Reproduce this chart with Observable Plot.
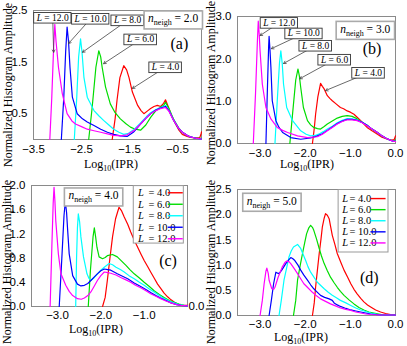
<!DOCTYPE html>
<html><head><meta charset="utf-8">
<script src="https://cdn.jsdelivr.net/npm/d3@7"></script>
<script src="https://cdn.jsdelivr.net/npm/@observablehq/plot@0.6"></script>
<style>
body{margin:0;background:#fff}
#fig{position:relative;width:407px;height:346px;overflow:hidden;background:#fff}
.pn{position:absolute}
.xl{position:absolute;transform:translateX(-50%);font:12px "Liberation Serif","Times New Roman",serif;line-height:11px;white-space:nowrap;color:#000}
.xl sub{font-size:8px;line-height:0;vertical-align:-3px}
.yl{position:absolute;transform:translate(-50%,-50%) rotate(-90deg);font:12px "Liberation Serif","Times New Roman",serif;line-height:12px;white-space:nowrap;color:#000}
</style>
</head><body><div id="fig"></div>
<script>
// ---------- data ----------
const Lvalues = ["4.0", "6.0", "8.0", "10.0", "12.0"];
const colors = ["#ff0000", "#00dd00", "#00ffff", "#0000ff", "#ff00ff"];
const nNeigh = ["2.0", "3.0", "4.0", "5.0"];
const tags = ["(a)", "(b)", "(c)", "(d)"];

const xTicksA = [-3.5, -2.5, -1.5, -0.5];
const xTicksB = [-3, -2, -1, 0];
const xTicksC = [-3, -2, -1];
const xTicksD = [-3, -2, -1, 0];
const yTicksA = [0.5, 1.5, 2.5];
const yTicksB = [0, 1, 2, 3];
const yTicksC = [0, 0.4, 0.8, 1.2, 1.6, 2.0];
const yTicksD = [0, 0.5, 1, 1.5, 2, 2.5];

// panel (a), n_neigh = 2.0  : [log10(IPR), amplitude]
const a4 = [[-1.86,0],[-1.80,0.4],[-1.76,0.76],[-1.70,1.2],[-1.62,1.43],[-1.56,1.35],[-1.51,1.20],[-1.44,0.92],[-1.33,0.66],[-1.26,0.56],[-1.20,0.50],[-1.13,0.55],[-1.06,0.60],[-0.99,0.64],[-0.92,0.66],[-0.85,0.64],[-0.79,0.70],[-0.75,0.77],[-0.69,0.63],[-0.62,0.46],[-0.54,0.30],[-0.47,0.18],[-0.40,0.10],[-0.30,0.06],[-0.23,0.04],[-0.12,0.03],[-0.04,0.03],[-0.01,0.10],[0,0.15]];
const a6 = [[-2.35,0],[-2.28,0.6],[-2.20,1.4],[-2.14,1.72],[-2.10,1.6],[-2.07,1.40],[-2.0,1.02],[-1.90,0.69],[-1.80,0.52],[-1.69,0.40],[-1.58,0.31],[-1.48,0.24],[-1.38,0.20],[-1.27,0.18],[-1.16,0.28],[-1.06,0.43],[-0.95,0.56],[-0.85,0.63],[-0.79,0.66],[-0.75,0.72],[-0.68,0.60],[-0.58,0.39],[-0.48,0.23],[-0.40,0.14],[-0.30,0.08],[-0.23,0.05],[-0.1,0.02],[0,0.02]];
const a8 = [[-2.65,0],[-2.60,0.8],[-2.56,1.6],[-2.52,1.95],[-2.49,1.7],[-2.45,1.21],[-2.38,0.82],[-2.24,0.56],[-2.14,0.46],[-2.04,0.37],[-1.93,0.28],[-1.83,0.20],[-1.72,0.14],[-1.62,0.10],[-1.52,0.12],[-1.40,0.20],[-1.27,0.32],[-1.15,0.44],[-1.06,0.52],[-0.95,0.58],[-0.85,0.62],[-0.75,0.66],[-0.68,0.57],[-0.58,0.38],[-0.48,0.22],[-0.40,0.14],[-0.30,0.08],[-0.23,0.05],[-0.1,0.02],[0,0.01]];
const a10 = [[-2.92,0],[-2.87,0.8],[-2.83,1.7],[-2.80,2.18],[-2.77,1.9],[-2.74,1.40],[-2.69,0.82],[-2.59,0.50],[-2.48,0.40],[-2.38,0.34],[-2.24,0.27],[-2.10,0.20],[-1.96,0.14],[-1.83,0.10],[-1.69,0.07],[-1.55,0.06],[-1.42,0.14],[-1.27,0.30],[-1.15,0.42],[-1.06,0.50],[-0.95,0.57],[-0.85,0.61],[-0.75,0.64],[-0.68,0.56],[-0.58,0.37],[-0.48,0.22],[-0.40,0.14],[-0.30,0.08],[-0.23,0.05],[-0.1,0.02],[0,0.01]];
const a12 = [[-3.16,0],[-3.12,0.8],[-3.08,1.8],[-3.056,2.23],[-3.03,1.9],[-2.98,1.40],[-2.90,0.89],[-2.80,0.50],[-2.70,0.36],[-2.625,0.30],[-2.50,0.25],[-2.38,0.20],[-2.24,0.17],[-2.10,0.14],[-1.96,0.11],[-1.83,0.08],[-1.68,0.07],[-1.55,0.09],[-1.40,0.18],[-1.27,0.30],[-1.15,0.42],[-1.06,0.50],[-0.95,0.56],[-0.85,0.60],[-0.75,0.62],[-0.68,0.55],[-0.58,0.37],[-0.48,0.22],[-0.40,0.14],[-0.30,0.08],[-0.23,0.05],[-0.1,0.02],[0,0.01]];

// panel (b), n_neigh = 3.0
const b4 = [[-1.84,0],[-1.80,0.35],[-1.77,0.69],[-1.72,1.1],[-1.66,1.42],[-1.62,1.35],[-1.58,1.29],[-1.51,1.13],[-1.45,1.06],[-1.40,1.01],[-1.31,0.93],[-1.22,0.85],[-1.15,0.82],[-1.07,0.77],[-1.00,0.74],[-0.92,0.69],[-0.85,0.62],[-0.77,0.54],[-0.70,0.46],[-0.63,0.38],[-0.52,0.30],[-0.40,0.22],[-0.30,0.15],[-0.18,0.10],[-0.08,0.08],[-0.03,0.09],[0,0.18]];
const b6 = [[-2.34,0],[-2.28,0.7],[-2.21,1.5],[-2.16,1.76],[-2.13,1.6],[-2.10,1.33],[-2.04,0.85],[-1.95,0.54],[-1.88,0.44],[-1.81,0.38],[-1.73,0.35],[-1.66,0.34],[-1.58,0.40],[-1.51,0.46],[-1.40,0.53],[-1.29,0.60],[-1.18,0.64],[-1.07,0.66],[-0.96,0.64],[-0.88,0.60],[-0.77,0.52],[-0.63,0.43],[-0.52,0.34],[-0.40,0.26],[-0.30,0.18],[-0.22,0.13],[-0.12,0.08],[-0.04,0.06],[0,0.08]];
const b8 = [[-2.67,0],[-2.62,1.0],[-2.57,1.9],[-2.54,2.19],[-2.51,1.9],[-2.48,1.40],[-2.41,0.85],[-2.28,0.54],[-2.10,0.30],[-1.98,0.22],[-1.88,0.18],[-1.78,0.19],[-1.70,0.22],[-1.60,0.28],[-1.51,0.34],[-1.40,0.41],[-1.29,0.49],[-1.18,0.55],[-1.07,0.59],[-0.96,0.58],[-0.85,0.56],[-0.74,0.50],[-0.63,0.43],[-0.52,0.34],[-0.40,0.26],[-0.30,0.18],[-0.22,0.13],[-0.12,0.08],[-0.04,0.05],[0,0.05]];
const b10 = [[-2.87,0],[-2.84,1.2],[-2.81,2.3],[-2.80,2.53],[-2.78,2.2],[-2.76,1.80],[-2.73,1.01],[-2.65,0.54],[-2.58,0.38],[-2.50,0.26],[-2.32,0.14],[-2.10,0.10],[-1.88,0.13],[-1.73,0.18],[-1.62,0.23],[-1.51,0.31],[-1.40,0.39],[-1.29,0.47],[-1.18,0.53],[-1.07,0.57],[-0.96,0.57],[-0.85,0.55],[-0.74,0.50],[-0.63,0.43],[-0.52,0.34],[-0.40,0.26],[-0.30,0.18],[-0.22,0.13],[-0.12,0.08],[-0.04,0.05],[0,0.05]];
const b12 = [[-3.15,0],[-3.10,1.2],[-3.06,2.4],[-3.04,2.89],[-3.02,2.6],[-3.0,2.19],[-2.95,1.40],[-2.87,0.85],[-2.76,0.58],[-2.62,0.38],[-2.50,0.31],[-2.39,0.26],[-2.17,0.18],[-1.95,0.14],[-1.73,0.16],[-1.62,0.22],[-1.51,0.30],[-1.40,0.38],[-1.29,0.46],[-1.18,0.52],[-1.07,0.56],[-0.96,0.56],[-0.85,0.54],[-0.74,0.49],[-0.63,0.42],[-0.52,0.34],[-0.40,0.26],[-0.30,0.18],[-0.22,0.13],[-0.12,0.08],[-0.04,0.05],[0,0.05]];

// panel (c), n_neigh = 4.0
const c4 = [[-1.96,0],[-1.90,0.15],[-1.85,0.43],[-1.79,0.8],[-1.73,1.15],[-1.66,1.45],[-1.58,1.64],[-1.52,1.58],[-1.46,1.48],[-1.38,1.36],[-1.31,1.23],[-1.23,1.10],[-1.15,0.98],[-1.07,0.86],[-1.0,0.76],[-0.92,0.66],[-0.85,0.57],[-0.77,0.47],[-0.69,0.37],[-0.61,0.29],[-0.54,0.22],[-0.46,0.16],[-0.38,0.11],[-0.30,0.07],[-0.23,0.04],[-0.12,0.02],[0,0.02]];
const c6 = [[-2.29,0],[-2.24,0.6],[-2.18,1.15],[-2.15,1.30],[-2.12,1.15],[-2.09,0.98],[-2.04,0.82],[-1.96,0.79],[-1.90,0.81],[-1.85,0.84],[-1.73,0.86],[-1.62,0.82],[-1.52,0.75],[-1.42,0.68],[-1.33,0.61],[-1.23,0.54],[-1.11,0.47],[-1.0,0.40],[-0.88,0.33],[-0.77,0.26],[-0.65,0.20],[-0.54,0.15],[-0.42,0.10],[-0.31,0.07],[-0.20,0.04],[-0.08,0.02],[0,0.01]];
const c8 = [[-2.58,0],[-2.56,0.8],[-2.54,1.3],[-2.52,1.53],[-2.49,1.4],[-2.46,1.15],[-2.40,0.82],[-2.32,0.54],[-2.27,0.46],[-2.23,0.43],[-2.15,0.48],[-2.08,0.54],[-2.00,0.60],[-1.92,0.65],[-1.81,0.71],[-1.73,0.69],[-1.65,0.65],[-1.55,0.61],[-1.46,0.57],[-1.35,0.51],[-1.23,0.46],[-1.11,0.40],[-1.0,0.35],[-0.88,0.29],[-0.77,0.24],[-0.65,0.18],[-0.54,0.13],[-0.42,0.09],[-0.31,0.06],[-0.20,0.03],[-0.08,0.02],[0,0.01]];
const c10 = [[-2.96,0],[-2.90,0.8],[-2.85,1.5],[-2.82,1.74],[-2.79,1.55],[-2.77,1.31],[-2.73,0.87],[-2.65,0.51],[-2.54,0.37],[-2.46,0.34],[-2.38,0.35],[-2.30,0.38],[-2.23,0.43],[-2.15,0.49],[-2.08,0.54],[-2.00,0.59],[-1.92,0.62],[-1.84,0.61],[-1.77,0.60],[-1.62,0.54],[-1.50,0.50],[-1.38,0.46],[-1.23,0.39],[-1.08,0.33],[-0.96,0.28],[-0.85,0.23],[-0.73,0.18],[-0.62,0.14],[-0.50,0.10],[-0.38,0.06],[-0.25,0.03],[-0.15,0.02],[0,0.01]];
const c12 = [[-3.17,0],[-3.13,1.0],[-3.10,1.7],[-3.08,1.97],[-3.06,1.75],[-3.04,1.42],[-2.98,0.87],[-2.92,0.54],[-2.81,0.35],[-2.73,0.25],[-2.65,0.18],[-2.54,0.13],[-2.45,0.12],[-2.38,0.14],[-2.30,0.18],[-2.23,0.24],[-2.15,0.34],[-2.08,0.43],[-2.00,0.51],[-1.92,0.57],[-1.84,0.56],[-1.77,0.55],[-1.65,0.52],[-1.54,0.48],[-1.42,0.44],[-1.31,0.40],[-1.20,0.35],[-1.08,0.31],[-0.96,0.26],[-0.85,0.21],[-0.73,0.17],[-0.62,0.13],[-0.50,0.09],[-0.38,0.06],[-0.25,0.03],[-0.15,0.02],[0,0.01]];

// panel (d), n_neigh = 5.0
const d4 = [[-1.84,0],[-1.80,0.25],[-1.77,0.56],[-1.73,0.9],[-1.69,1.23],[-1.65,1.52],[-1.62,1.76],[-1.58,1.93],[-1.55,2.02],[-1.51,1.99],[-1.47,1.92],[-1.44,1.78],[-1.40,1.59],[-1.34,1.40],[-1.29,1.23],[-1.21,1.05],[-1.14,0.90],[-1.06,0.76],[-0.99,0.63],[-0.92,0.52],[-0.85,0.43],[-0.77,0.34],[-0.70,0.27],[-0.62,0.21],[-0.55,0.17],[-0.44,0.11],[-0.33,0.07],[-0.22,0.04],[-0.11,0.02],[0,0.01]];
const d6 = [[-2.26,0],[-2.21,0.3],[-2.17,0.70],[-2.11,1.0],[-2.06,1.23],[-2.01,1.45],[-1.97,1.62],[-1.92,1.74],[-1.88,1.79],[-1.84,1.75],[-1.81,1.69],[-1.75,1.52],[-1.69,1.33],[-1.64,1.18],[-1.58,1.03],[-1.51,0.89],[-1.44,0.76],[-1.36,0.65],[-1.29,0.56],[-1.22,0.48],[-1.14,0.40],[-1.03,0.31],[-0.92,0.23],[-0.81,0.16],[-0.70,0.11],[-0.59,0.07],[-0.48,0.05],[-0.37,0.03],[-0.26,0.01],[0,0.01]];
const d8 = [[-2.58,0],[-2.53,0.3],[-2.47,0.70],[-2.41,0.95],[-2.36,1.16],[-2.31,1.28],[-2.26,1.36],[-2.17,1.41],[-2.10,1.33],[-2.05,1.22],[-1.99,1.09],[-1.94,0.97],[-1.88,0.86],[-1.80,0.75],[-1.73,0.66],[-1.65,0.59],[-1.58,0.53],[-1.49,0.46],[-1.40,0.40],[-1.31,0.35],[-1.22,0.30],[-1.10,0.25],[-0.99,0.20],[-0.88,0.15],[-0.77,0.11],[-0.66,0.08],[-0.55,0.05],[-0.44,0.03],[-0.33,0.01],[0,0.01]];
const d10 = [[-2.80,0],[-2.75,0.3],[-2.70,0.63],[-2.65,0.86],[-2.61,0.84],[-2.58,0.83],[-2.52,0.90],[-2.43,1.03],[-2.36,1.11],[-2.32,1.15],[-2.28,1.13],[-2.23,1.09],[-2.16,1.0],[-2.10,0.90],[-2.03,0.80],[-1.95,0.70],[-1.88,0.61],[-1.81,0.53],[-1.73,0.46],[-1.66,0.40],[-1.57,0.36],[-1.47,0.33],[-1.40,0.30],[-1.36,0.25],[-1.29,0.21],[-1.22,0.18],[-1.10,0.14],[-0.99,0.11],[-0.88,0.09],[-0.77,0.07],[-0.66,0.05],[-0.55,0.03],[-0.44,0.02],[-0.33,0.01],[0,0.01]];
const d12 = [[-3.0,0],[-2.95,0.3],[-2.91,0.63],[-2.87,0.88],[-2.85,0.94],[-2.82,0.84],[-2.80,0.70],[-2.74,0.53],[-2.70,0.52],[-2.67,0.56],[-2.60,0.76],[-2.51,0.96],[-2.45,1.05],[-2.41,1.08],[-2.36,1.07],[-2.32,1.03],[-2.25,0.94],[-2.17,0.83],[-2.10,0.73],[-2.03,0.63],[-1.93,0.54],[-1.84,0.46],[-1.75,0.39],[-1.66,0.33],[-1.55,0.28],[-1.44,0.23],[-1.33,0.19],[-1.22,0.15],[-1.10,0.12],[-0.99,0.10],[-0.88,0.07],[-0.77,0.05],[-0.66,0.03],[-0.55,0.02],[-0.33,0.01],[0,0.01]];

// annotations (data units): label anchor and arrow tip
const annA = [
  {L: "12.0", x: -3.10, y: 2.36, tx: -3.08, ty: 1.69},
  {L: "10.0", x: -2.31, y: 2.34, tx: -2.77, ty: 1.86},
  {L: "8.0", x: -1.54, y: 2.31, tx: -2.48, ty: 1.69},
  {L: "6.0", x: -1.27, y: 1.94, tx: -2.04, ty: 1.47},
  {L: "4.0", x: -0.75, y: 1.40, tx: -1.44, ty: 0.99}
];
const annB = [
  {L: "12.0", x: -2.576, y: 2.85, tx: -3.0, ty: 2.55},
  {L: "10.0", x: -2.03, y: 2.60, tx: -2.75, ty: 2.24},
  {L: "8.0", x: -1.77, y: 2.31, tx: -2.48, ty: 1.89},
  {L: "6.0", x: -1.35, y: 1.98, tx: -2.12, ty: 1.53},
  {L: "4.0", x: -0.60, y: 1.67, tx: -1.55, ty: 1.25}
];
const nPos = [[-0.59, 2.34], [-0.67, 2.70], [-2.17, 1.83], [-2.74, 2.27]];
const tagPos = [[-0.46, 1.86], [-0.52, 2.23], [-0.45, 0.76], [-0.58, 0.74]];
const legC = {x1: -1.24, x2: -0.085, y1: 1.04, y2: 1.99, lx: -1.14, ex: -0.90, r1: -0.455, r2: -0.11, top: 1.88, step: 0.19};
const legD = {x1: -1.26, x2: -0.155, y1: 1.25, y2: 2.49, lx: -1.18, ex: -1.02, r1: -0.555, r2: -0.22, top: 2.32, step: 0.22};

// ---------- drawing ----------
const SANS = "'Liberation Sans', Arial, Helvetica, sans-serif";
const SERIF = "'Liberation Serif', 'Times New Roman', serif";
const NS = "http://www.w3.org/2000/svg";
const fmt = d => (d < 0 ? "\u2212" : "") + Math.abs(d).toFixed(1);

const panels = [
  {left: 0, top: 0, w: 205, h: 170, m: [10, 4, 31, 33], xd: [-3.5, 0], yd: [0, 2.5], xt: xTicksA, yt: yTicksA, tp: 5,
   series: [a4, a6, a8, a10, a12], ann: annA, leg: null, yl: [8, 85], xl: [111, 168]},
  {left: 205, top: 0, w: 202, h: 170, m: [16, 12, 27, 32], xd: [-3.5, 0], yd: [0, 3], xt: xTicksB, yt: yTicksB, tp: 5,
   series: [b4, b6, b8, b10, b12], ann: annB, leg: null, yl: [211, 83], xl: [307, 168]},
  {left: 0, top: 172, w: 205, h: 174, m: [13, 18, 40, 31], xd: [-3.6, 0], yd: [0, 2], xt: xTicksC, yt: yTicksC, tp: 4,
   series: [c4, c6, c8, c10, c12], ann: null, leg: legC, extraZero: true, yl: [7, 262], xl: [96, 333]},
  {left: 205, top: 172, w: 202, h: 174, m: [17, 12, 31, 32], xd: [-3.5, 0], yd: [0, 2.5], xt: xTicksD, yt: yTicksD, tp: 4,
   series: [d4, d6, d8, d10, d12], ann: null, leg: legD, yl: [211, 262], xl: [301, 341]}
];

const fig = document.getElementById("fig");

function tspan(t, s, attrs = {}) {
  const e = document.createElementNS(NS, "tspan");
  for (const k in attrs) e.setAttribute(k, attrs[k]);
  e.textContent = s;
  t.appendChild(e);
}
function box(t, stroke, sw, px, py) {
  const b = t.getBBox();
  const r = document.createElementNS(NS, "rect");
  r.setAttribute("x", b.x - px); r.setAttribute("y", b.y - py);
  r.setAttribute("width", b.width + 2 * px); r.setAttribute("height", b.height + 2 * py);
  r.setAttribute("fill", "white"); r.setAttribute("stroke", stroke); r.setAttribute("stroke-width", sw);
  const tr = t.getAttribute("transform"); if (tr) r.setAttribute("transform", tr);
  t.parentNode.insertBefore(r, t);
}
function enrich(svg) {
  for (const t of Array.from(svg.querySelectorAll("text"))) {
    const s = t.textContent; let m;
    if ((m = s.match(/^L = (.*)$/))) {
      t.textContent = "";
      tspan(t, "L", {"font-style": "italic"});
      tspan(t, " = " + m[1]);
      box(t, "#333", 0.9, 2, 0.3);
    } else if ((m = s.match(/^n_neigh = (.*)$/))) {
      t.textContent = "";
      tspan(t, "n", {"font-style": "italic"});
      tspan(t, "neigh", {"font-size": "8px", dy: "3"});
      tspan(t, " = " + m[1], {dy: "-3"});
      box(t, "#aaa", 1.6, 4, 1.5);
    }
  }
}

panels.forEach((p, pi) => {
  const marks = [Plot.frame({stroke: "#8a8a8a", strokeWidth: 1})];
  p.series.forEach((s, i) => marks.push(Plot.line(s, {x: d => d[0], y: d => d[1], stroke: colors[i], strokeWidth: 1.2})));
  if (p.ann) {
    marks.push(Plot.arrow(p.ann, {x1: "x", y1: "y", x2: "tx", y2: "ty", stroke: "#444", strokeWidth: 0.8, headLength: 5, bend: 0}));
    marks.push(Plot.text(p.ann, {x: "x", y: "y", text: d => "L = " + d.L, fontFamily: SERIF, fontSize: 9.5, fill: "#000"}));
  }
  if (p.leg) {
    const g = p.leg;
    const rows = Lvalues.map((L, i) => ({L, c: colors[i], y: g.top - i * g.step, lx: g.lx, ex: g.ex, r1: g.r1, r2: g.r2}));
    marks.push(Plot.rect([g], {x1: "x1", x2: "x2", y1: "y1", y2: "y2", fill: "white", stroke: "#999", strokeWidth: 1}));
    marks.push(Plot.text(rows, {x: "lx", y: "y", text: () => "L", fontStyle: "italic", fontFamily: SERIF, fontSize: 10.5, textAnchor: "start"}));
    marks.push(Plot.text(rows, {x: "ex", y: "y", text: d => "= " + d.L, fontFamily: SERIF, fontSize: 10.5, textAnchor: "start"}));
    marks.push(Plot.link(rows, {x1: "r1", x2: "r2", y1: "y", y2: "y", stroke: d => d.c, strokeWidth: 1.4}));
  }
  marks.push(Plot.text([{v: nNeigh[pi], x: nPos[pi][0], y: nPos[pi][1]}], {x: "x", y: "y", text: d => "n_neigh = " + d.v, fontFamily: SERIF, fontSize: 11.5}));
  marks.push(Plot.text([{v: tags[pi], x: tagPos[pi][0], y: tagPos[pi][1]}], {x: "x", y: "y", text: "v", fontFamily: SERIF, fontSize: 16}));
  if (p.extraZero) {
    marks.push(Plot.text([0], {x: d => d, y: d => d, text: d => fmt(d), textAnchor: "start", dx: 1, fontFamily: SANS, fontSize: 11.5}));
  }
  const svg = Plot.plot({
    width: p.w, height: p.h,
    marginTop: p.m[0], marginRight: p.m[1], marginBottom: p.m[2], marginLeft: p.m[3],
    style: {fontFamily: SANS, fontSize: "11.5px", color: "#000", background: "transparent", overflow: "visible"},
    x: {type: "linear", domain: p.xd, ticks: p.xt, tickFormat: fmt, tickSize: 0, tickPadding: p.tp, label: null},
    y: {type: "linear", domain: p.yd, ticks: p.yt, tickFormat: fmt, tickSize: 0, tickPadding: 6, label: null},
    color: {type: "identity"},
    marks
  });
  svg.classList.add("pn");
  svg.style.left = p.left + "px";
  svg.style.top = p.top + "px";
  fig.appendChild(svg);
  enrich(svg);

  const yl = document.createElement("div");
  yl.className = "yl"; yl.textContent = "Normalized Histogram Amplitude";
  yl.style.left = p.yl[0] + "px"; yl.style.top = p.yl[1] + "px";
  fig.appendChild(yl);
  const xl = document.createElement("div");
  xl.className = "xl"; xl.innerHTML = "Log<sub>10</sub>(IPR)";
  xl.style.left = p.xl[0] + "px"; xl.style.top = (p.xl[1] - 9.5) + "px";
  fig.appendChild(xl);
});
</script>
</body></html>
